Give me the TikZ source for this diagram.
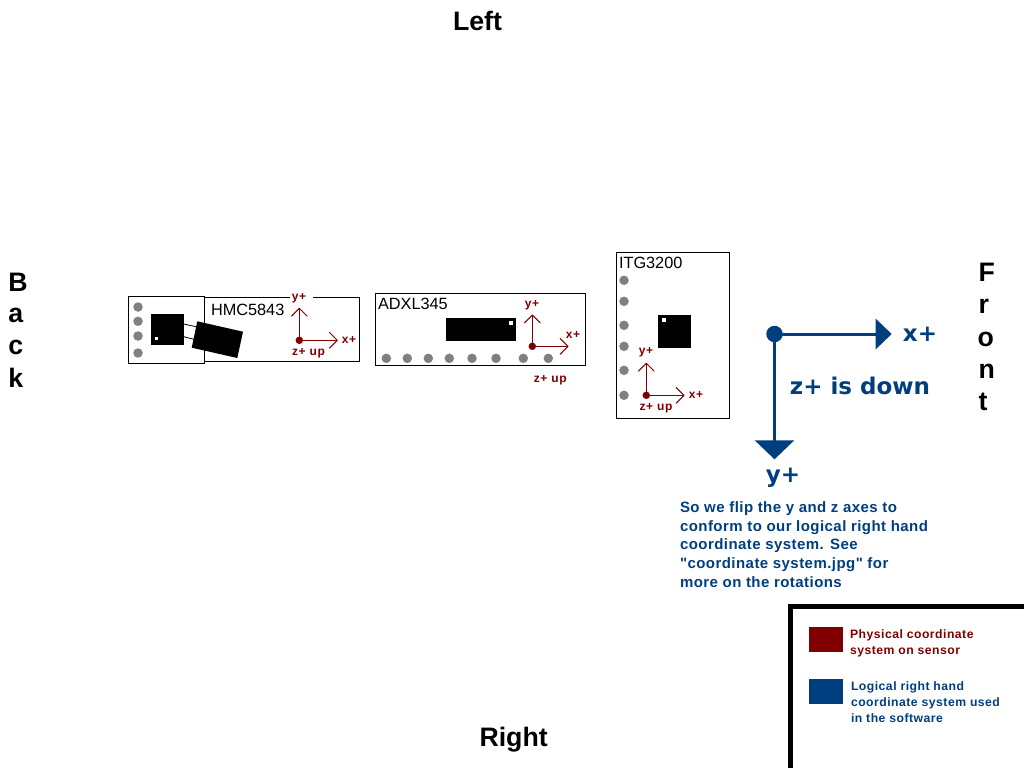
\documentclass[tikz,border=0pt]{standalone}
\usepackage{fontspec}
\setmainfont{Liberation Sans}
\newfontfamily\bluefont{DejaVu Sans}
\newfontfamily\plainsans{Liberation Sans}
\usetikzlibrary{arrows.meta}
\definecolor{physred}{HTML}{800000}
\definecolor{logblue}{HTML}{003F7F}
\definecolor{pingrey}{HTML}{808080}
\newcommand{\fs}[1]{\fontsize{#1}{#1}\selectfont}
\pgfdeclarearrow{
 name=OpenVee,
 setup code={%
  \pgfarrowssettipend{0pt}%
  \pgfarrowssetlineend{-0.5pt}%
  \pgfarrowssetvisualbackend{-8pt}%
  \pgfarrowssetbackend{-8pt}%
  \pgfarrowshullpoint{-8pt}{8pt}%
  \pgfarrowshullpoint{-8pt}{-8pt}%
  \pgfarrowshullpoint{0pt}{0pt}%
 },
 drawing code={%
  \pgfsetlinewidth{1pt}%
  \pgfsetroundjoin
  \pgfpathmoveto{\pgfqpoint{-8pt}{8pt}}%
  \pgfpathlineto{\pgfqpoint{0pt}{0pt}}%
  \pgfpathlineto{\pgfqpoint{-8pt}{-8pt}}%
  \pgfusepathqstroke
 }
}
\tikzset{
 every node/.style={inner sep=0pt,outer sep=0pt},
 board/.style={draw=black,fill=white,line width=1pt},
 pin/.style={circle,fill=pingrey,minimum size=9.5pt},
 chip/.style={fill=black},
 pinone/.style={fill=white},
 origin/.style={circle,fill=physred,minimum size=7.5pt},
 physaxis/.style={draw=physred,line width=1pt,-{OpenVee}},
 physlab/.style={text=physred,font=\fs{12}\bfseries\addfontfeature{LetterSpace=5}},
 title/.style={anchor=base west,font=\fs{26.7}\bfseries,text=black},
 partlab/.style={anchor=west,font=\fs{16.3},text=black},
 logaxis/.style={draw=logblue,line width=3pt},
 loglab/.style={text=logblue,font=\fs{23}\bluefont\bfseries},
 bluepara/.style={anchor=base west,text=logblue,font=\fs{15}\plainsans\bfseries\addfontfeature{LetterSpace=3}},
 legtext/.style={anchor=base west,font=\fs{12.2}\bfseries\addfontfeature{LetterSpace=4}},
}
\begin{document}
\begin{tikzpicture}[x=1pt,y=-1pt]
\useasboundingbox (0,0) rectangle (1024,768);
\fill[white] (0,0) rectangle (1024,768);
% titles
\node[title] (left) at (453,30.5) {Left};
\node[title] (right) at (479.5,746.5) {Right};
\node[title] (b1) at (8.5,291) {B};
\node[title] (b2) at (8.5,322.5) {a};
\node[title] (b3) at (8.5,354.5) {c};
\node[title] (b4) at (8.5,387) {k};
\node[title] (f1) at (978.5,281.5) {F};
\node[title] (f2) at (978.5,313.5) {r};
\node[title] (f3) at (977.5,346) {o};
\node[title] (f4) at (978.5,378) {n};
\node[title] (f5) at (978.5,410) {t};
% HMC5843
\draw[board] (204.5,297) rectangle (359.5,361);
\draw[board] (128.5,296) rectangle (204.5,363);
\foreach \n/\y in {a/307,b/321.3,c/336,d/353}{\node[pin] (hp\n) at (138,\y) {};}
\fill[chip] (151,314) rectangle (184,345);
\fill[pinone] (154.5,337) rectangle (157.5,340);
\fill[chip] (197.3,321.3) -- (243,331.7) -- (237.3,358) -- (191.7,347.7) -- cycle;
\draw[line width=0.8pt] (183.7,324) -- (197.3,327);
\draw[line width=0.8pt] (183.7,336.7) -- (194,339.3);
\node[partlab] (hmc) at (211,310) {HMC5843};
\node[origin] (ho) at (299.3,340.3) {};
\coordinate (hy) at (299.3,308.3);
\coordinate (hx) at (337.3,340.3);
\draw[physaxis] (ho.center) -- (hy);
\draw[physaxis] (ho.center) -- (hx);
\fill[white] (290,293) rectangle (313,299);
\node[physlab] (hyl) at (299,298.5) {y+};
\node[physlab] (hxl) at (349,340) {x+};
\node[physlab] (hzl) at (308.5,353) {z+ up};
% ADXL345
\draw[board] (375.5,293.5) rectangle (585.5,365.5);
\foreach \n/\x in {a/386.3,b/407.3,c/428.3,d/449.3,e/472,f/496,g/523.3,h/548.3}{\node[pin] (ap\n) at (\x,358.3) {};}
\fill[chip] (446,318) rectangle (516,341);
\fill[pinone] (509,320.5) rectangle (513,325);
\node[partlab] (adxl) at (378,304) {ADXL345};
\node[origin] (ao) at (532.3,346.3) {};
\coordinate (ay) at (532.3,315);
\coordinate (ax) at (568,346.3);
\draw[physaxis] (ao.center) -- (ay);
\draw[physaxis] (ao.center) -- (ax);
\node[physlab] (ayl) at (532,305.5) {y+};
\node[physlab] (axl) at (573,335) {x+};
\node[physlab] (azl) at (550.3,380) {z+ up};
% ITG3200
\draw[board] (616.5,252.5) rectangle (729.5,418.5);
\foreach \n/\y in {a/280.3,b/301.3,c/325.3,d/346.3,e/370.3,f/395.3}{\node[pin] (ip\n) at (624,\y) {};}
\fill[chip] (658,315) rectangle (691,348);
\fill[pinone] (662,318) rectangle (666,322);
\node[partlab] (itg) at (619,263) {ITG3200};
\node[origin] (io) at (646.3,395.3) {};
\coordinate (iy) at (646.3,363.3);
\coordinate (ix) at (684,395.3);
\draw[physaxis] (io.center) -- (iy);
\draw[physaxis] (io.center) -- (ix);
\node[physlab] (iyl) at (646,352.7) {y+};
\node[physlab] (ixl) at (696,395) {x+};
\node[physlab] (izl) at (656,408.3) {z+ up};
% logical axes
\node[circle,fill=logblue,minimum size=16.5pt] (lo) at (774.5,334) {};
\coordinate (lx) at (891.7,334);
\coordinate (ly) at (774.5,459.3);
\draw[logaxis,-{Triangle[length=16pt,width=30pt]}] (lo.center) -- (lx);
\draw[logaxis,-{Triangle[length=19pt,width=39pt]}] (lo.center) -- (ly);
\node[loglab] (lxl) at (920,334) {x+};
\node[loglab] (lzl) at (860,386) {z+ is down};
\node[loglab] (lyl) at (783,477.5) {y+};
% note
\node[bluepara] (p1) at (680,512.5) {So we flip the y and z axes to};
\node[bluepara] (p2) at (680,531.8) {conform to our logical right hand};
\node[bluepara] (p3) at (680,549.5) {coordinate system. See};
\node[bluepara] (p4) at (680,568.5) {"coordinate system.jpg" for};
\node[bluepara] (p5) at (680,587.5) {more on the rotations};
% legend
\fill[black] (787.5,604) rectangle (1024,608.7);
\fill[black] (788,604) rectangle (792.7,768);
\fill[physred] (809,627) rectangle (843,652);
\fill[logblue] (809,679) rectangle (843,704);
\node[legtext,text=physred] (l1) at (850,638.3) {Physical coordinate};
\node[legtext,text=physred] (l2) at (850,654.3) {system on sensor};
\node[legtext,text=logblue] (l3) at (851,690.5) {Logical right hand};
\node[legtext,text=logblue] (l4) at (851,706.3) {coordinate system used};
\node[legtext,text=logblue] (l5) at (851,722.3) {in the software};
\end{tikzpicture}
\end{document}
